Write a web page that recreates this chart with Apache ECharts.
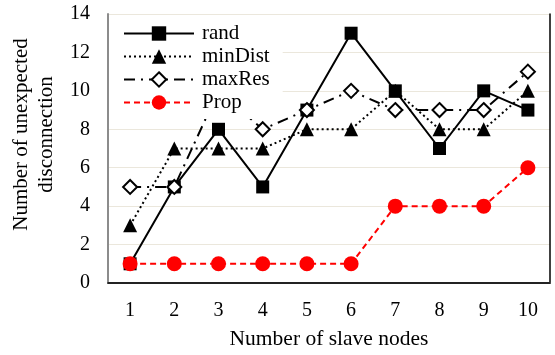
<!DOCTYPE html>
<html>
<head>
<meta charset="utf-8">
<script src="https://cdn.jsdelivr.net/npm/echarts@6/dist/echarts.min.js"></script>
<style>
  html, body { margin: 0; padding: 0; background: #fff; }
  #chart { width: 555px; height: 355px; }
</style>
</head>
<body>
<div id="chart"></div>
<script>
// Number of slave nodes on the x axis
const categories = ['1', '2', '3', '4', '5', '6', '7', '8', '9', '10'];

// Unexpected disconnections per placement strategy
const randValues    = [1, 5, 8, 5, 9, 13, 10, 7, 10, 9];
const minDistValues = [3, 7, 7, 7, 8, 8, 10, 8, 8, 10];
const maxResValues  = [5, 5, 10, 8, 9, 10, 9, 9, 9, 11];
const propValues    = [1, 1, 1, 1, 1, 1, 4, 4, 4, 6];

const FONT = "'Liberation Serif', 'Times New Roman', serif";

const chart = echarts.init(document.getElementById('chart'), null, { renderer: 'canvas' });

chart.setOption({
  animation: false,
  backgroundColor: '#fff',
  textStyle: { fontFamily: FONT, color: '#000' },
  grid: { left: 108, right: 5, top: 14, bottom: 70, containLabel: false },
  legend: {
    orient: 'vertical',
    left: 109,
    top: 15,
    padding: [8, 13, 6, 14],
    backgroundColor: '#fff',
    itemWidth: 70,
    itemHeight: 18,
    itemGap: 2,
    z: 10,
    textStyle: { fontFamily: FONT, fontSize: 21, lineHeight: 21, color: '#000', padding: [0, 0, 0, 3] },
    data: ['rand', 'minDist', 'maxRes', 'Prop']
  },
  xAxis: [
    {
      type: 'category',
      data: categories,
      boundaryGap: true,
      axisLine: { show: true, lineStyle: { color: '#8c8c8c', width: 2 } },
      axisTick: { show: false },
      axisLabel: { margin: 18, fontFamily: FONT, fontSize: 20, color: '#000' },
      name: 'Number of slave nodes',
      nameLocation: 'middle',
      nameGap: 45,
      nameTextStyle: { fontFamily: FONT, fontSize: 21.5, color: '#000' }
    },
    {
      type: 'category',
      position: 'top',
      data: categories,
      axisLine: { show: true, lineStyle: { color: '#000', width: 1.5 } },
      axisTick: { show: false },
      axisLabel: { show: false }
    }
  ],
  yAxis: [
    {
      type: 'value',
      min: 0,
      max: 14,
      interval: 2,
      axisLine: { show: true, lineStyle: { color: '#8c8c8c', width: 2 } },
      axisTick: { show: false },
      axisLabel: { margin: 18, fontFamily: FONT, fontSize: 20, color: '#000' },
      splitLine: { show: true, lineStyle: { color: '#ebe7dc', width: 1 } },
      name: 'Number of unexpected\ndisconnection',
      nameLocation: 'middle',
      nameGap: 46,
      nameRotate: 90,
      nameTextStyle: { fontFamily: FONT, fontSize: 21, color: '#000', lineHeight: 25, padding: [0, 0, 0, 28] }
    },
    {
      type: 'value',
      position: 'right',
      min: 0,
      max: 14,
      interval: 2,
      axisLine: { show: true, lineStyle: { color: '#000', width: 1.5 } },
      axisTick: { show: false },
      axisLabel: { show: false },
      splitLine: { show: false }
    }
  ],
  series: [
    {
      name: 'rand',
      type: 'line',
      data: randValues,
      z: 3,
      symbol: 'rect',
      symbolSize: 13,
      itemStyle: { color: '#000' },
      lineStyle: { color: '#000', width: 2, type: 'solid' }
    },
    {
      name: 'minDist',
      type: 'line',
      data: minDistValues,
      z: 2,
      symbol: 'triangle',
      symbolSize: 14,
      itemStyle: { color: '#000' },
      lineStyle: { color: '#000', width: 2, type: [2, 3] }
    },
    {
      name: 'maxRes',
      type: 'line',
      data: maxResValues,
      z: 4,
      symbol: 'diamond',
      symbolSize: 14,
      itemStyle: { color: '#fff', borderColor: '#000', borderWidth: 2 },
      lineStyle: { color: '#000', width: 2, type: [11, 6, 2, 6] }
    },
    {
      name: 'Prop',
      type: 'line',
      data: propValues,
      z: 5,
      symbol: 'circle',
      symbolSize: 15,
      itemStyle: { color: '#ff0000' },
      lineStyle: { color: '#ff0000', width: 2, type: [6, 4] }
    }
  ]
});
</script>
</body>
</html>
